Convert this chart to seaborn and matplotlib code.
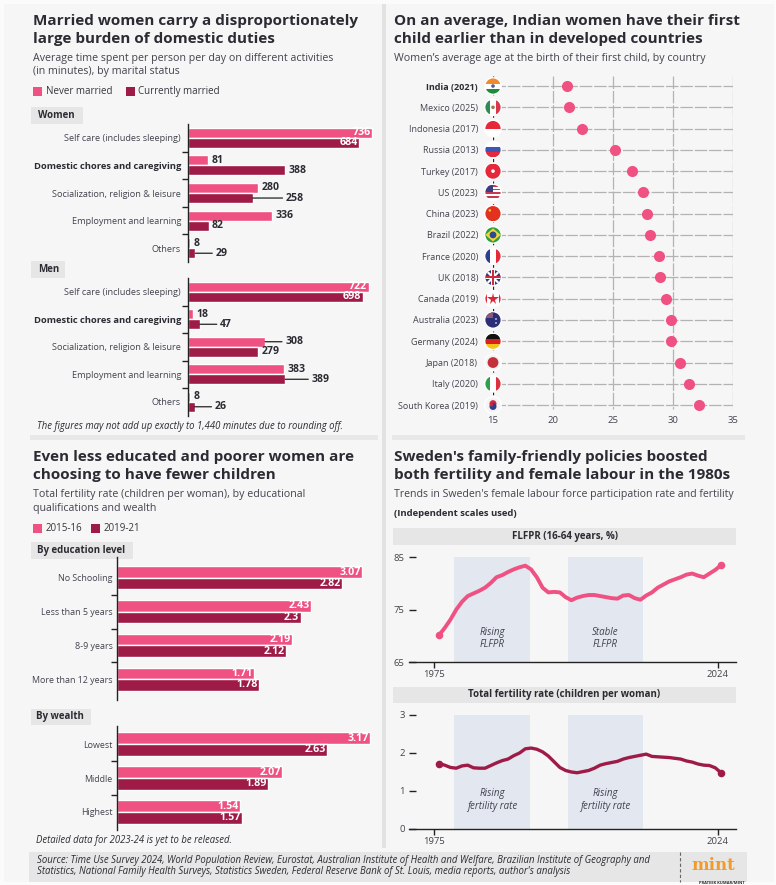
import numpy as np
import pandas as pd
import matplotlib
matplotlib.use("Agg")
import matplotlib.pyplot as plt
from matplotlib.patches import Rectangle, Circle, Polygon
import seaborn as sns

# data
activities = ["Self care (includes sleeping)", "Domestic chores and caregiving",
              "Socialization, religion & leisure", "Employment and learning", "Others"]
women_never = [736, 81, 280, 336, 8]
women_married = [684, 388, 258, 82, 29]
men_never = [722, 18, 308, 383, 8]
men_married = [698, 47, 279, 389, 26]

countries = ["India (2021)", "Mexico (2025)", "Indonesia (2017)", "Russia (2013)", "Turkey (2017)",
             "US (2023)", "China (2023)", "Brazil (2022)", "France (2020)", "UK (2018)",
             "Canada (2019)", "Australia (2023)", "Germany (2024)", "Japan (2018)",
             "Italy (2020)", "South Korea (2019)"]
first_child_age = [21.2, 21.3, 22.4, 25.2, 26.6, 27.5, 27.8, 28.1, 28.8, 28.9,
                   29.4, 29.8, 29.8, 30.6, 31.3, 32.2]

education = ["No Schooling", "Less than 5 years", "8-9 years", "More than 12 years"]
edu_2015 = [3.07, 2.43, 2.19, 1.71]
edu_2019 = [2.82, 2.3, 2.12, 1.78]
wealth = ["Lowest", "Middle", "Highest"]
wealth_2015 = [3.17, 2.07, 1.54]
wealth_2019 = [2.63, 1.89, 1.57]

years = list(range(1975, 2025))
flfpr = [70.1, 71.5, 73.1, 75.0, 76.5, 77.6, 78.1, 78.6, 79.2, 80.1,
         81.2, 81.6, 82.2, 82.7, 83.1, 83.4, 82.7, 81.2, 79.2, 78.3,
         78.4, 78.3, 77.4, 76.8, 77.3, 77.6, 77.8, 77.8, 77.6, 77.4,
         77.2, 77.1, 77.7, 77.8, 77.2, 76.9, 77.7, 78.3, 79.2, 79.8,
         80.4, 80.8, 81.2, 81.7, 81.9, 81.5, 81.2, 81.9, 82.6, 83.5]
tfr = [1.72, 1.68, 1.62, 1.60, 1.66, 1.68, 1.61, 1.60, 1.60, 1.67,
       1.74, 1.80, 1.84, 1.93, 2.00, 2.11, 2.13, 2.10, 2.03, 1.92,
       1.77, 1.62, 1.54, 1.50, 1.48, 1.51, 1.54, 1.60, 1.68, 1.72,
       1.75, 1.78, 1.84, 1.88, 1.91, 1.94, 1.97, 1.91, 1.90, 1.89,
       1.88, 1.86, 1.84, 1.79, 1.76, 1.71, 1.68, 1.67, 1.61, 1.48]

PINK = "#EF5282"
DARK = "#9E1B48"
INK = "#2b2b33"
SUB = "#43434f"
W, H = 776, 885

sns.set_theme(style="white")
plt.rcParams["font.family"] = ["Open Sans", "DejaVu Sans"]

fig = plt.figure(figsize=(W / 100, H / 100), dpi=100, facecolor="#fbfbfb")

# full page axes in pixels, for panels and text
bg = fig.add_axes([0, 0, 1, 1], zorder=0)
bg.set_xlim(0, W)
bg.set_ylim(H, 0)
bg.axis("off")
# same thing on top of the charts, for the flags
top = fig.add_axes([0, 0, 1, 1], zorder=3)
top.set_xlim(0, W)
top.set_ylim(H, 0)
top.axis("off")


def px_axes(x0, y0, x1, y1):
    ax = fig.add_axes([x0 / W, 1 - y1 / H, (x1 - x0) / W, (y1 - y0) / H], zorder=2)
    ax.patch.set_alpha(0)
    return ax


def box(x0, y0, x1, y1, color, **kw):
    bg.add_patch(Rectangle((x0, y0), x1 - x0, y1 - y0, facecolor=color, edgecolor="none", **kw))


def txt(x, y, s, size=7, color=SUB, **kw):
    kw.setdefault("va", "center")
    return bg.text(x, y, s, fontsize=size, color=color, **kw)


def title(x, y1, y2, line1, line2):
    txt(x, y1, line1, 11, INK, fontweight="bold")
    txt(x, y2, line2, 11, INK, fontweight="bold")


def header(x0, y0, x1, y1, s, tx=None):
    box(x0, y0, x1, y1, "#e6e6e6")
    if tx is None:
        txt((x0 + x1) / 2, (y0 + y1) / 2, s, 7.05, INK, fontweight="bold", ha="center")
    else:
        txt(tx, (y0 + y1) / 2, s, 7.05, INK, fontweight="bold")


def legend(y, items):
    for x, c, s in items:
        box(x, y - 4.5, x + 8.5, y + 4.5, c)
        txt(x + 12.5, y, s, 7, "#35353f")


def bar_panel(rect, cats, a, b, names, xmax, bar_w, leaders, white_from, fmt, margin, tick_pad, tick_font):
    df = pd.DataFrame({"cat": cats * 2, "val": a + b,
                       "series": [names[0]] * len(cats) + [names[1]] * len(cats)})
    ax = px_axes(*rect)
    sns.barplot(data=df, x="val", y="cat", hue="series", palette=[PINK, DARK], width=bar_w,
                saturation=1, legend=False, ax=ax)
    ax.set_xlim(0, xmax)
    ax.set_ylim(len(cats) - 0.5 + margin, -0.5 - margin)
    ax.set_xlabel("")
    ax.set_ylabel("")
    ax.set_xticks([])
    sns.despine(ax=ax, bottom=True)
    ax.spines["left"].set_color("#222222")
    ax.spines["left"].set_linewidth(1)
    ax.set_yticks(np.arange(len(cats) - 1) + 0.5, minor=True)
    ax.tick_params(axis="y", which="minor", left=True, length=4, width=1, color="#222222")
    ax.tick_params(axis="y", which="major", left=False, length=0, pad=tick_pad, labelsize=tick_font, labelcolor=SUB)
    for i in range(len(cats)):
        for j, vals in enumerate((a, b)):
            v = vals[i]
            yy = i + (j - 0.5) * bar_w / 2
            if v >= white_from:
                ax.annotate(fmt(v), (v, yy), xytext=(-1, 0), textcoords="offset points", color="white",
                            fontsize=7.7, fontweight="bold", ha="right", va="center")
            else:
                gap = leaders.get((i, j), 0)
                if gap:
                    ax.annotate("", (v, yy), xytext=(gap * 0.72, 0), textcoords="offset points",
                                arrowprops=dict(arrowstyle="-", color="#222222", lw=0.9, shrinkA=0, shrinkB=0))
                ax.annotate(fmt(v), (v, yy), xytext=(gap * 0.72 + 2.5, 0), textcoords="offset points",
                            color=INK, fontsize=7.6, fontweight="bold", ha="left", va="center",
                            annotation_clip=False)
    return ax


# panels
box(4, 4, 382, 848, "#f6f6f6")
box(386, 4, 774, 848, "#f6f6f6")
box(4, 848, 774, 882, "#f6f6f6")
box(382, 4, 386, 848, "#e2e2e2")
for a0, a1 in ((30, 378), (392, 745)):
    box(a0, 435, a1, 439.5, "#e8e8e8")

# ---- top left
title(33, 20.5, 38.5, "Married women carry a disproportionately", "large burden of domestic duties")
txt(33, 58, "Average time spent per person per day on different activities", 7.65)
txt(33, 71.5, "(in minutes), by marital status", 7.65)
legend(91.5, [(33, PINK, "Never married"), (126, DARK, "Currently married")])
header(31, 107, 83, 123.5, "Women", 38)
header(31, 261, 65, 278, "Men", 38)
min_fmt = lambda v: str(v)
ax_w = bar_panel((188, 124, 376, 262), activities, women_never, women_married,
                 ("Never married", "Currently married"), 752, 0.73,
                 {(2, 1): 30, (4, 1): 17}, 500, min_fmt, 0, 5, 6.55)
ax_m = bar_panel((188, 278, 376, 415.5), activities, men_never, men_married,
                 ("Never married", "Currently married"), 752, 0.73,
                 {(1, 1): 17, (2, 0): 17, (3, 1): 23, (4, 1): 17}, 500, min_fmt, 0, 5, 6.55)
for a in (ax_w, ax_m):
    lab = a.get_yticklabels()[1]
    lab.set_fontweight("bold")
    lab.set_fontsize(6.75)
    lab.set_color(INK)
txt(37, 426, "The figures may not add up exactly to 1,440 minutes due to rounding off.", 6.87, INK, style="italic")

# ---- top right
title(394, 20.5, 38.5, "On an average, Indian women have their first", "child earlier than in developed countries")
txt(394, 58, "Women\u2019s average age at the birth of their first child, by country", 7.65)

ax_d = px_axes(493, 75.4, 733, 415.7)
age_df = pd.DataFrame({"country": countries, "age": first_child_age})
sns.stripplot(data=age_df, x="age", y="country", color=PINK, size=8, jitter=False, ax=ax_d, zorder=5)
ax_d.set_xlim(15, 35)
ax_d.set_ylim(len(countries) - 0.5, -0.5)
ax_d.hlines(range(len(countries)), 15, 35, color="#b3b3b3", lw=0.9, ls=(0, (10, 1.5)), zorder=1)
ax_d.vlines([20, 25, 30, 35], -0.45, 15.2, color="#b3b3b3", lw=0.9, ls=(0, (10, 1.5)), zorder=1)
ax_d.vlines(15, -0.45, 15.3, color="#222222", lw=0.9, ls=(0, (3, 3)), zorder=1)
ax_d.set_xlabel("")
ax_d.set_ylabel("")
sns.despine(ax=ax_d, left=True, bottom=True)
ax_d.set_xticks([15, 20, 25, 30, 35])
ax_d.tick_params(axis="x", bottom=False, length=0, pad=0, labelsize=6.8, labelcolor=SUB)
ax_d.tick_params(axis="y", left=False, length=0, pad=10.8, labelsize=6.5, labelcolor=SUB)
ax_d.get_yticklabels()[0].set_fontweight("bold")
ax_d.get_yticklabels()[0].set_color(INK)


# little round flags on the left edge of the dot chart
def stripes(cx, cy, r, colors, horizontal, clip):
    n = len(colors)
    for k, c in enumerate(colors):
        if horizontal:
            p = Rectangle((cx - r, cy - r + 2 * r * k / n), 2 * r, 2 * r / n, facecolor=c, edgecolor="none", zorder=6)
        else:
            p = Rectangle((cx - r + 2 * r * k / n, cy - r), 2 * r / n, 2 * r, facecolor=c, edgecolor="none", zorder=6)
        top.add_patch(p)
        p.set_clip_path(clip)


def flag(name, cx, cy, r=7.6):
    halo = Circle((cx, cy), r + 1.3, facecolor="white", edgecolor="none", zorder=5)
    top.add_patch(halo)
    clip = Circle((cx, cy), r, facecolor="none", edgecolor="none", zorder=6)
    top.add_patch(clip)

    def dot(dx, dy, rad, c):
        p = Circle((cx + dx, cy + dy), rad, facecolor=c, edgecolor="none", zorder=7)
        top.add_patch(p)
        p.set_clip_path(clip)
        return p

    def bar(x0, y0, w, h, c):
        p = Rectangle((cx + x0, cy + y0), w, h, facecolor=c, edgecolor="none", zorder=7)
        top.add_patch(p)
        p.set_clip_path(clip)

    def line(pts, c, lw):
        l, = top.plot([cx + q[0] for q in pts], [cy + q[1] for q in pts], color=c, lw=lw, zorder=7)
        l.set_clip_path(clip)

    if name == "India":
        stripes(cx, cy, r, ["#F08A2C", "#ffffff", "#1E8A3C"], True, clip)
        dot(0, 0, 1.8, "#5a5a8c")
    elif name == "Mexico":
        stripes(cx, cy, r, ["#2E8B57", "#ffffff", "#D8394A"], False, clip)
        dot(0, 0, 1.8, "#a07850")
    elif name == "Indonesia":
        stripes(cx, cy, r, ["#E5283A", "#ffffff"], True, clip)
    elif name == "Russia":
        stripes(cx, cy, r, ["#ffffff", "#3E55B5", "#E5283A"], True, clip)
    elif name == "Turkey":
        stripes(cx, cy, r, ["#E5283A"], True, clip)
        dot(0, 0, 1.8, "#ffffff")
    elif name == "US":
        stripes(cx, cy, r, ["#C8384E", "#ffffff"] * 4, True, clip)
        bar(-r, -r, r, r, "#3A3F80")
    elif name == "China":
        stripes(cx, cy, r, ["#E3301F"], True, clip)
        dot(-3.2, -3.2, 1.2, "#F5D33B")
    elif name == "Brazil":
        stripes(cx, cy, r, ["#2F9E41"], True, clip)
        top.add_patch(Polygon([(cx - r, cy), (cx, cy - r + 1), (cx + r, cy), (cx, cy + r - 1)],
                              facecolor="#F5D33B", edgecolor="none", zorder=7))
        dot(0, 0, 3.4, "#2C4A8C")
    elif name == "France":
        stripes(cx, cy, r, ["#2C3E8C", "#ffffff", "#E5283A"], False, clip)
    elif name == "UK":
        stripes(cx, cy, r, ["#2C3E7C"], True, clip)
        line([(-r, -r), (r, r)], "#ffffff", 1.6)
        line([(-r, r), (r, -r)], "#ffffff", 1.6)
        bar(-r, -1.8, 2 * r, 3.6, "#ffffff")
        bar(-1.8, -r, 3.6, 2 * r, "#ffffff")
        bar(-r, -1, 2 * r, 2, "#D0283C")
        bar(-1, -r, 2, 2 * r, "#D0283C")
    elif name == "Canada":
        stripes(cx, cy, r, ["#E5283A"] + ["#ffffff"] * 6 + ["#E5283A"], False, clip)
        top.plot([cx], [cy], marker="*", ms=8.5, color="#D8283A", mew=0, zorder=7)
    elif name == "Australia":
        stripes(cx, cy, r, ["#2A2F78"], True, clip)
        bar(-r, -r, r, r * 0.8, "#8a5a78")
        dot(3, -1, 0.8, "#ffffff")
        dot(3, 3, 0.8, "#ffffff")
    elif name == "Germany":
        stripes(cx, cy, r, ["#111111", "#D8201F", "#F6C21C"], True, clip)
    elif name == "Japan":
        stripes(cx, cy, r, ["#f3f3f3"], True, clip)
        dot(0, 0, 5.4, "#C4303A")
    elif name == "Italy":
        stripes(cx, cy, r, ["#2E9E4F", "#ffffff", "#DC3040"], False, clip)
    elif name == "South":
        stripes(cx, cy, r, ["#f4f4f4"], True, clip)
        dot(0, -1.4, 3.5, "#D0283C")
        dot(0, 1.4, 3.5, "#2C3E8C")
        dot(-1.5, -0.2, 1.7, "#D0283C")


for i, c in enumerate(countries):
    fx, fy = top.transData.inverted().transform(ax_d.transData.transform((15, i)))
    flag(c.split()[0], fx, fy)

# ---- bottom left
title(33, 456.7, 475, "Even less educated and poorer women are", "choosing to have fewer children")
txt(33, 495, "Total fertility rate (children per woman), by educational", 7.65)
txt(33, 508.5, "qualifications and wealth", 7.65)
legend(528.7, [(33, PINK, "2015-16"), (91, DARK, "2019-21")])
header(31, 542, 133, 559, "By education level", 37)
header(31, 709, 91, 724.5, "By wealth", 36)
rate_fmt = lambda v: f"{v:g}"
bar_panel((117.5, 557, 377, 700), education, edu_2015, edu_2019, ("2015-16", "2019-21"),
          259.5 / 79.6, 0.68, {}, 0, rate_fmt, 0.117, 3.5, 6.4)
bar_panel((117.5, 726, 377, 830), wealth, wealth_2015, wealth_2019, ("2015-16", "2019-21"),
          259.5 / 79.6, 0.68, {}, 0, rate_fmt, 0.03, 3.5, 6.4)
txt(36, 841, "Detailed data for 2023-24 is yet to be released.", 6.87, INK, style="italic")

# ---- bottom right
title(394, 456.7, 475, "Sweden's family-friendly policies boosted", "both fertility and female labour in the 1980s")
txt(394, 495, "Trends in Sweden's female labour force participation rate and fertility", 7.55)
txt(394, 513, "(Independent scales used)", 6.8, INK, fontweight="bold")
header(393, 528, 736, 545, "FLFPR (16-64 years, %)")
header(393, 687, 736, 702.5, "Total fertility rate (children per woman)")

# x ticks sit a little left of the first and last year in the original
tick_years = [1974.2, 2023.4]
tick_names = ["1975", "2024"]


def line_panel(rect, vals, color, ylim, yticks, spans, lw, label_frac):
    ax = px_axes(*rect)
    for (s0, s1, s) in spans:
        ax.axvspan(s0, s1, color="#E2E7F0", lw=0, zorder=0)
        ax.text((s0 + s1) / 2, ylim[0] + (ylim[1] - ylim[0]) * label_frac, s, ha="center", va="center",
                fontsize=7, style="italic", color=SUB, linespacing=1.15)
    df = pd.DataFrame({"year": years, "val": vals})
    sns.lineplot(data=df, x="year", y="val", color=color, lw=lw, ax=ax, zorder=3)
    sns.scatterplot(data=df.iloc[[0, -1]], x="year", y="val", color=color, s=30, lw=0, ax=ax, zorder=4, clip_on=False)
    ax.set_xlim(1969.8, 2026.6)
    ax.set_ylim(*ylim)
    ax.set_xlabel("")
    ax.set_ylabel("")
    sns.despine(ax=ax, left=True)
    ax.spines["bottom"].set_color("#222222")
    ax.spines["bottom"].set_linewidth(1)
    ax.set_xticks(tick_years, tick_names)
    ax.set_yticks(yticks)
    ax.tick_params(axis="x", bottom=True, length=4, width=1, color="#222222", pad=2, labelsize=6.8, labelcolor=SUB)
    ax.tick_params(axis="y", left=True, direction="in", length=5, width=1, color="#222222", pad=3,
                   labelsize=6.8, labelcolor=SUB)
    return ax


line_panel((409, 556.8, 736, 662), flfpr, PINK, (65, 85.1), [65, 75, 85],
           [(1977.6, 1990.9, "Rising\nFLFPR"), (1997.4, 2010.4, "Stable\nFLFPR")], 2.8, 0.224)
line_panel((409, 715, 736, 829), tfr, DARK, (0, 3), [0, 1, 2, 3],
           [(1977.6, 1990.9, "Rising\nfertility rate"), (1997.4, 2010.4, "Rising\nfertility rate")], 2.4, 0.254)

# ---- source strip
box(29, 852, 747, 882, "#e6e6e6")
txt(37, 860, "Source: Time Use Survey 2024, World Population Review, Eurostat, Australian Institute of Health and Welfare, Brazilian Institute of Geography and",
    6.97, INK, style="italic")
txt(37, 871.7, "Statistics, National Family Health Surveys, Statistics Sweden, Federal Reserve Bank of St. Louis, media reports, author's analysis",
    6.97, INK, style="italic")
bg.plot([680, 680], [852, 882], color="#666666", lw=0.8, ls=(0, (3, 2)))
txt(713, 866, "mint", 12, "#F49A26", ha="center", fontweight="bold", family="DejaVu Serif")
# credit is cut by the page edge in the original, kept small here so it stays whole
txt(745, 883.4, "PRATEEK KUMAR/MINT", 2.9, INK, ha="right", fontweight="bold")

fig.savefig("out.png", dpi=100)
